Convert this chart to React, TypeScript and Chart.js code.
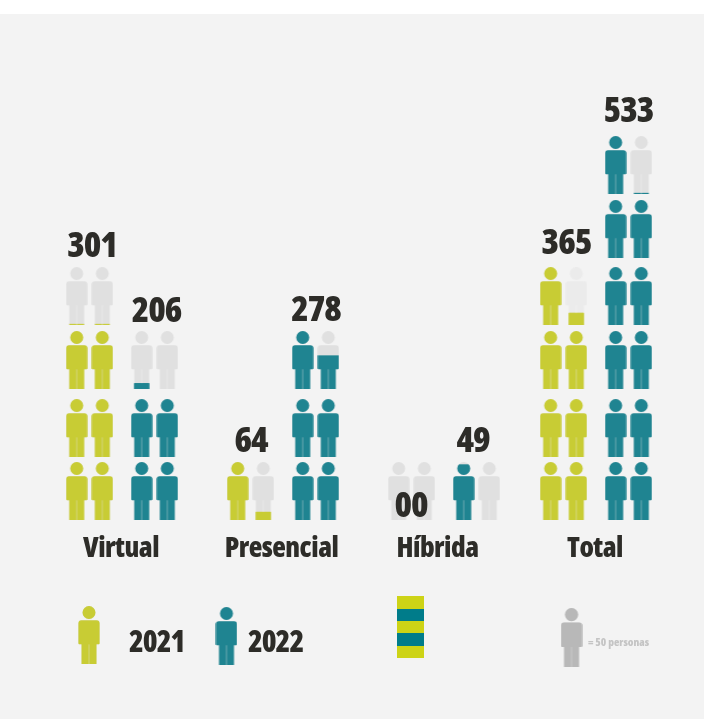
import React, { useEffect, useRef } from "react";
import { Chart, registerables } from "chart.js";

Chart.register(...registerables);

// ---- data ----
const CATEGORIES = ["Virtual", "Presencial", "Híbrida", "Total"];
const LABELS_2021 = ["301", "64", "00", "365"];
const LABELS_2022 = ["206", "278", "49", "533"];
// how much of each 50-person icon is filled, bottom row first, left to right
const FILL_2021 = [
  [1, 1, 1, 1, 1, 1, 0.02, 0.02],
  [1, 0.14],
  [0, 0],
  [1, 1, 1, 1, 1, 1, 1, 0.21],
];
const FILL_2022 = [
  [1, 1, 1, 1, 0.1, 0],
  [1, 1, 1, 1, 1, 0.58],
  [0.96, 0],
  [1, 1, 1, 1, 1, 1, 1, 1, 1, 1, 1, 0.02],
];
const LEGEND_YEARS = ["2021", "2022"];
const LEGEND_UNIT = "= 50 personas";

// ---- layout, in scale units ----
const PX_X = 161;
const PX_Y = 65.2;
const X_MIN = -122 / PX_X;
const X_MAX = (704 - 122) / PX_X;
const Y_MIN = -(719 - 520) / PX_Y;
const Y_MAX = 520 / PX_Y;
const GROUP_X = [0, 1, 2, 2.944];
const TICK_X = [-0.006, 0.9907, 1.9596, 2.938];
const YEAR_DX = 32.5 / PX_X;
const ICON_DX = 12.8 / PX_X;
const ROW_Y = [0, 0.966, 2.01, 2.99, 4.02, 5.0];
const ICON_H = 58;
const ICON_W = 22;
const ICON_MID = ICON_H / 2 / PX_Y;
const LABEL_NUDGE_2021: number[][] = [[2.5, -10], [0.5, -10], [-0.5, 0], [3, -13]];
const LABEL_NUDGE_2022: number[][] = [[2, -9], [0.5, -10], [-3.5, -10], [0, -14]];

const YELLOW = "#c8cc34";
const TEAL = "#1f8491";
const GHOST = "#e0e0e0";
const GHOST_LIGHT = "#ebebeb";
const UNIT_GREY = "#b8b8b8";
const STRIPE_YELLOW = "#cdd316";
const STRIPE_TEAL = "#007c8a";
const INK = "#2d2c28";
const BG = "#f3f3f3";
const FONT = '"Open Sans", sans-serif';

function personPath(ctx: CanvasRenderingContext2D, w: number, h: number) {
  const k = h / 58;
  const cx = w / 2;
  ctx.beginPath();
  ctx.arc(cx, 6.5 * k, 6.5 * k, 0, Math.PI * 2);
  ctx.closePath();
  ctx.roundRect(cx - 10.6, 14.3 * k, 21.2, 24 * k, [3, 3, 1, 1]);
  ctx.rect(cx - 7.5, 38.3 * k, 7.3, 19.7 * k);
  ctx.rect(cx + 0.2, 38.3 * k, 7.3, 19.7 * k);
}

function makeIcon(color: string, fill: number, ghost: string, h = ICON_H): HTMLCanvasElement {
  const c = document.createElement("canvas");
  c.width = ICON_W;
  c.height = h;
  const ctx = c.getContext("2d")!;
  personPath(ctx, ICON_W, h);
  ctx.save();
  ctx.clip();
  ctx.fillStyle = ghost;
  ctx.fillRect(0, 0, ICON_W, h);
  const fh = h * fill;
  ctx.fillStyle = color;
  ctx.fillRect(0, h - fh, ICON_W, fh);
  ctx.restore();
  if (fill > 0.05 && fill < 0.3) {
    ctx.fillStyle = color;
    ctx.fillRect(ICON_W / 2 - 7.5, h - fh, 15, fh);
  }
  return c;
}

function makeStripes(): HTMLCanvasElement {
  const c = document.createElement("canvas");
  c.width = 27;
  c.height = 62;
  const ctx = c.getContext("2d")!;
  const edges = [0, 13, 25, 37, 50, 62];
  for (let i = 0; i < 5; i++) {
    ctx.fillStyle = i % 2 ? STRIPE_TEAL : STRIPE_YELLOW;
    ctx.fillRect(0, edges[i], 27, edges[i + 1] - edges[i]);
  }
  return c;
}

function seriesPoints(fills: number[][], dx: number) {
  const pts: { x: number; y: number }[] = [];
  fills.forEach((group, g) => {
    group.forEach((_, i) => {
      const col = i % 2;
      const row = Math.floor(i / 2);
      pts.push({
        x: GROUP_X[g] + dx + (col ? ICON_DX : -ICON_DX),
        y: ROW_Y[row] + ICON_MID,
      });
    });
  });
  return pts;
}

function seriesIcons(fills: number[][], color: string) {
  return fills.flatMap((group, g) =>
    group.map((f) => makeIcon(color, f, g === 3 && color === YELLOW && f > 0.1 ? GHOST_LIGHT : GHOST))
  );
}

export default function App() {
  const ref = useRef<HTMLCanvasElement>(null);
  useEffect(() => {
    document.body.style.margin = "0";
    const labelsPlugin = {
      id: "pictoLabels",
      beforeDraw(chart: any) {
        const { ctx, width, height } = chart;
        ctx.save();
        ctx.fillStyle = BG;
        ctx.fillRect(0, 14, width, height - 14);
        ctx.restore();
        ctx.letterSpacing = "-0.5px";
      },
      afterDraw(chart: any) {
        const { ctx } = chart;
        const xs = chart.scales.x;
        const ys = chart.scales.y;
        ctx.save();
        ctx.fillStyle = INK;
        ctx.textAlign = "center";
        ctx.textBaseline = "alphabetic";
        ctx.letterSpacing = "-1px";
        ctx.font = `condensed 800 35.5px ${FONT}`;
        const put = (texts: string[], fills: number[][], dx: number, nudge: number[][]) => {
          texts.forEach((t, g) => {
            const rows = Math.ceil(fills[g].length / 2);
            const topY = ys.getPixelForValue(ROW_Y[rows - 1]) - ICON_H;
            const px = xs.getPixelForValue(GROUP_X[g] + dx) + nudge[g][0];
            const py = t === "00" ? ys.getPixelForValue(0) - 3 : topY + nudge[g][1];
            ctx.fillText(t, px, py);
          });
        };
        put(LABELS_2021, FILL_2021, -YEAR_DX, LABEL_NUDGE_2021);
        put(LABELS_2022, FILL_2022, YEAR_DX, LABEL_NUDGE_2022);
        ctx.font = `condensed 800 30px ${FONT}`;
        ctx.textAlign = "left";
        const ly = ys.getPixelForValue(-1.764) + 16.5;
        ctx.fillText(LEGEND_YEARS[0], xs.getPixelForValue(0.043), ly);
        ctx.fillText(LEGEND_YEARS[1], xs.getPixelForValue(0.782), ly);
        ctx.fillStyle = "#c4c4c4";
        ctx.letterSpacing = "0px";
        ctx.font = `condensed 800 11px ${FONT}`;
        ctx.fillText(LEGEND_UNIT, xs.getPixelForValue(2.894), ly - 6);
        ctx.restore();
      },
    };
    const chart = new Chart(ref.current!, {
      type: "scatter",
      data: {
        datasets: [
          {
            label: "2021",
            data: seriesPoints(FILL_2021, -YEAR_DX),
            pointStyle: seriesIcons(FILL_2021, YELLOW),
            pointRadius: 10,
          },
          {
            label: "2022",
            data: seriesPoints(FILL_2022, YEAR_DX),
            pointStyle: seriesIcons(FILL_2022, TEAL),
            pointRadius: 10,
          },
          {
            label: "legend",
            data: [
              { x: -0.205, y: -1.764 },
              { x: 0.649, y: -1.779 },
              { x: 1.792, y: -1.641 },
              { x: 2.792, y: -1.802 },
            ],
            pointStyle: [
              makeIcon(YELLOW, 1, GHOST),
              makeIcon(TEAL, 1, GHOST),
              makeStripes(),
              makeIcon(UNIT_GREY, 1, GHOST, 59),
            ],
            pointRadius: 10,
          },
        ] as any,
      },
      options: {
        animation: false,
        responsive: false,
        events: [],
        layout: { padding: 0, autoPadding: false },
        plugins: { legend: { display: false }, tooltip: { enabled: false } },
        scales: {
          x: {
            type: "linear",
            min: X_MIN,
            max: X_MAX,
            position: { y: 0 } as any,
            border: { display: false },
            grid: { display: false, drawTicks: false },
            afterBuildTicks(scale: any) {
              scale.ticks = TICK_X.map((value) => ({ value }));
            },
            ticks: {
              autoSkip: false,
              maxRotation: 0,
              padding: 12,
              color: INK,
              font: { family: FONT, weight: "condensed 800", size: 28 },
              callback: (_v: any, i: number) => CATEGORIES[i],
            },
          },
          y: { type: "linear", display: false, min: Y_MIN, max: Y_MAX },
        },
      },
      plugins: [labelsPlugin],
    } as any);
    return () => chart.destroy();
  }, []);
  return <canvas ref={ref} width={704} height={719} style={{ display: "block" }} />;
}
